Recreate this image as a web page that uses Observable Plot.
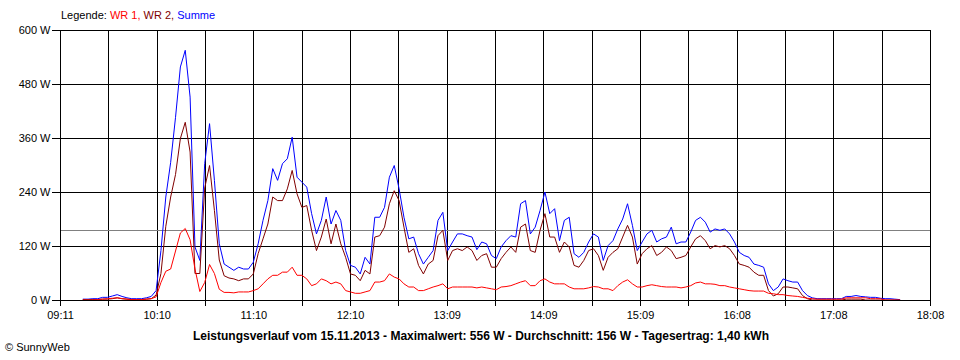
<!DOCTYPE html>
<html><head><meta charset="utf-8">
<script src="https://cdn.jsdelivr.net/npm/d3@7"></script>
<script src="https://cdn.jsdelivr.net/npm/@observablehq/plot@0.6"></script>
<style>
body{margin:0;background:#fff;font-family:"Liberation Sans",Arial,sans-serif;}
#wrap{position:relative;width:960px;height:360px;overflow:hidden;background:#fff;}
#legend{position:absolute;left:61px;top:9px;font-size:11px;white-space:nowrap;}
#caption{position:absolute;left:0;width:962px;top:329px;text-align:center;font-size:12px;font-weight:bold;white-space:nowrap;}
#copy{position:absolute;left:5px;top:341px;font-size:11px;white-space:nowrap;}
</style></head><body>
<div id="wrap"><div id="chart"></div>
<div id="legend">Legende: <span style="color:#ff0000">WR 1,</span> <span style="color:#800000">WR 2,</span> <span style="color:#0000ff">Summe</span></div>
<div id="caption">Leistungsverlauf vom 15.11.2013 - Maximalwert: 556 W - Durchschnitt: 156 W - Tagesertrag: 1,40 kWh</div>
<div id="copy">© SunnyWeb</div>
</div>
<script>
// x tick labels (every hour-ish), y ticks
const tickLabels = ["09:11","10:10","11:10","12:10","13:09","14:09","15:09","16:08","17:08","18:08"];
const yTicks = [0,120,240,360,480,600];
const average = 156;
// samples every 3 minutes starting at 09:25
const sampleStart = "09:25";
const stepMinutes = 3;

const wr1 = [
 1,1,1,2,3,4,5,6,4,3,2,2,2,3,4,8,40,65,70,110,150,160,135,70,20,40,80,60,25,18,18,17,
 19,19,19,22,26,37,48,56,56,63,63,74,56,56,48,33,37,48,44,37,41,37,22,19,16,16,19,22,41,41,44,59,52,48,37,30,
 30,22,22,26,30,33,37,26,30,30,30,30,30,28,30,28,26,24,30,31,33,37,41,44,33,33,44,48,41,37,37,37,30,26,26,26,
 28,31,30,26,26,22,33,41,46,37,30,30,33,35,33,31,30,30,30,28,30,33,39,41,37,37,36,33,33,30,28,26,24,22,21,21,
 21,16,15,13,13,11,10,9,7,5,4,3,3,3,3,3,3,6,6,6,6,6,4,4,4,1,1,1,1
];
const wr2 = [
 2,2,2,2,3,3,4,6,4,3,2,2,2,3,4,12,60,165,230,280,360,396,330,60,60,250,300,200,90,55,50,48,
 44,48,48,59,104,137,170,230,222,222,248,289,237,207,211,156,111,141,181,126,170,126,96,59,56,44,67,59,141,144,163,215,244,222,163,107,
 115,78,59,81,89,144,156,89,111,115,111,119,111,89,100,104,74,74,93,107,119,107,163,170,111,107,156,193,141,141,107,130,119,78,74,89,
 111,115,100,67,96,107,115,141,167,141,81,104,115,122,100,107,119,111,93,96,100,119,137,144,133,115,122,119,122,115,100,81,78,74,63,56,
 56,22,10,15,30,30,28,26,11,4,1,1,1,1,1,1,1,3,3,3,3,1,1,1,1,1,1,1,1
];
const summe = [
 3,3,4,4,7,7,10,13,9,6,4,4,4,6,9,22,111,230,307,407,519,556,452,119,89,304,393,267,126,81,74,67,
 74,70,70,85,126,178,222,293,267,304,315,363,274,263,252,193,148,178,230,170,200,178,111,78,74,59,96,81,185,185,207,274,300,248,185,137,
 141,104,81,96,111,178,196,111,130,148,148,144,141,113,130,126,100,93,119,133,144,141,215,222,148,163,200,241,193,204,133,178,185,104,96,107,
 130,148,141,89,122,133,159,181,215,167,111,130,148,156,130,137,141,163,126,130,130,152,178,185,174,152,159,156,159,148,130,107,100,96,81,78,
 74,37,22,30,48,44,41,41,22,11,6,4,4,4,4,4,4,9,9,11,9,8,7,7,5,4,4,3,2
];
const seriesNames = ["Summe","WR 2","WR 1"];
const seriesColors = ["#0000ff","#800000","#ff0000"];
const seriesValues = [summe, wr2, wr1];

const toMin = s => { const [h,m] = s.split(":").map(Number); return h*60+m; };
const t0 = toMin(sampleStart);
const xStart = toMin(tickLabels[0]), xEnd = toMin(tickLabels[tickLabels.length-1]);
const nInt = (tickLabels.length-1)*2;
const xTicks = d3.range(nInt+1).map(i => xStart + i*(xEnd-xStart)/nInt);

const lineMarks = seriesValues.map((vals, k) =>
  Plot.lineY(vals.map((v,i)=>({t: t0 + i*stepMinutes, w: v})),
    {x:"t", y:"w", stroke: seriesColors[k], strokeWidth:1, curve:"linear"}));

const chart = Plot.plot({
  width:960, height:330,
  marginLeft:60, marginRight:30, marginTop:30, marginBottom:30,
  x:{domain:[xStart,xEnd]},
  y:{domain:[0,600]},
  style:{fontFamily:'"Liberation Sans",Arial,sans-serif', fontSize:"11px", background:"#fff", color:"#000", overflow:"visible"},
  marks:[
    Plot.gridX(xTicks,{stroke:"#000", strokeOpacity:1, shapeRendering:"crispEdges"}),
    Plot.gridY(yTicks,{stroke:"#000", strokeOpacity:1, shapeRendering:"crispEdges"}),
    Plot.ruleY([average],{stroke:"#808080", shapeRendering:"crispEdges"}),
    ...lineMarks,
    Plot.frame({stroke:"#000", shapeRendering:"crispEdges"}),
    Plot.axisY({ticks:yTicks, tickFormat:d=>`${d} W`, tickSize:8, tickPadding:2, label:null, fill:"#000", stroke:"#000", shapeRendering:"crispEdges"}),
    Plot.axisX({ticks:xTicks, tickFormat:d=>{const i = xTicks.indexOf(d); return i%2===0 ? tickLabels[i/2] : "";}, tickSize:6, tickPadding:5, label:null, fill:"#000", stroke:"#000", shapeRendering:"crispEdges"})
  ]
});
document.getElementById("chart").appendChild(chart);
</script>
</body></html>
